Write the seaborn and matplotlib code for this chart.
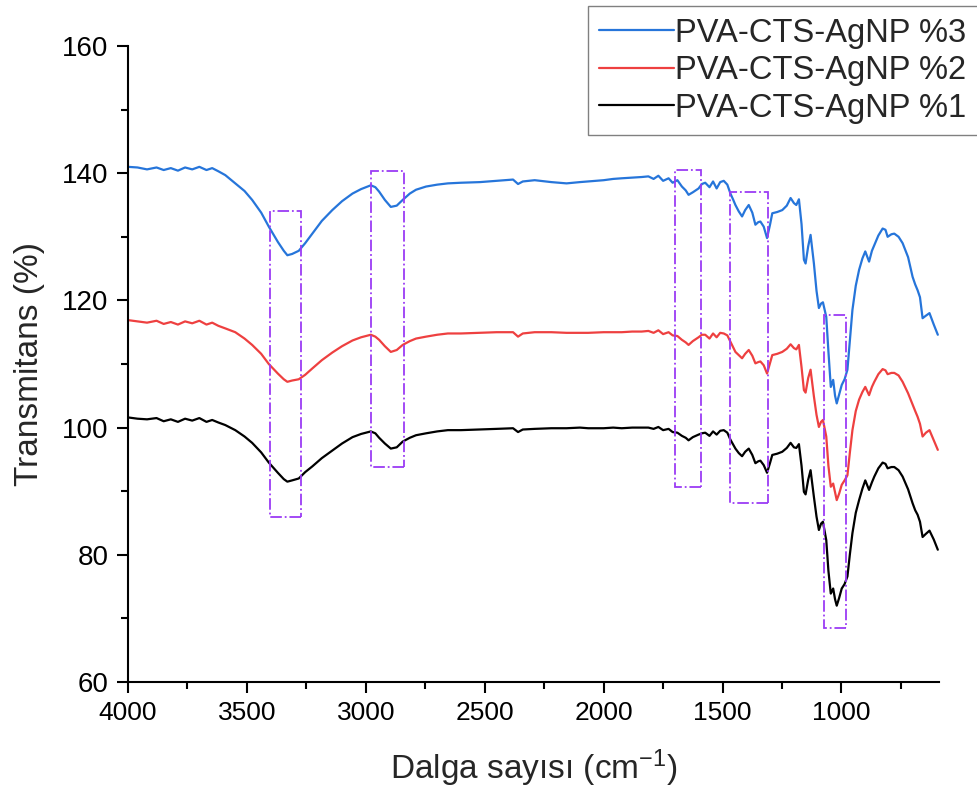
import matplotlib
matplotlib.use("Agg")
import matplotlib.pyplot as plt
from matplotlib.patches import Rectangle
from matplotlib.ticker import MultipleLocator
import seaborn as sns
import pandas as pd

# ---------------- data ----------------
wavenumber = [
    4000, 3960, 3920, 3880, 3850, 3820, 3790, 3760, 3730, 3700, 3670, 3646,
    3620, 3591, 3549, 3510, 3478, 3440, 3408, 3370, 3345, 3330, 3310, 3282,
    3255, 3225, 3185, 3141, 3100, 3056, 3020, 2979, 2960, 2944, 2920, 2895,
    2870, 2845, 2815, 2789, 2747, 2700, 2655, 2600, 2520, 2450, 2381, 2360,
    2340, 2290, 2220, 2156, 2100, 2065, 2000, 1960, 1924, 1880, 1840, 1812,
    1790, 1770, 1750, 1727, 1710, 1690, 1671, 1655, 1643, 1625, 1601, 1587,
    1573, 1555, 1540, 1525, 1510, 1495, 1480, 1467, 1455, 1446,
    1432, 1418, 1405, 1390, 1375, 1362, 1350, 1341, 1327, 1313,
    1300, 1291, 1270, 1249, 1230, 1214, 1200, 1190, 1179, 1168,
    1158, 1151, 1140, 1130, 1116, 1105, 1095, 1086, 1078, 1064,
    1055, 1045, 1035, 1027, 1020, 1010, 999, 987, 975, 965,
    954, 940, 926, 912, 900, 884, 872, 862, 845, 827,
    815, 806, 790, 778, 760, 743, 720, 701, 690, 680,
    670, 659, 645, 630, 612, 595,
]

pva_3 = [
    141.0, 140.9, 140.6, 140.9, 140.5, 140.8, 140.4, 140.9, 140.6, 141.0, 140.5, 140.8,
    140.3, 139.7, 138.4, 137.2, 135.8, 133.8, 131.6, 129.2, 127.8, 127.1, 127.3, 127.8,
    129.0, 130.5, 132.5, 134.2, 135.6, 136.8, 137.5, 138.1, 137.8, 137.1, 135.8, 134.7,
    134.9, 135.8, 136.8, 137.4, 137.9, 138.2, 138.4, 138.5, 138.6, 138.8, 139.0, 138.3,
    138.7, 138.9, 138.6, 138.4, 138.6, 138.7, 138.9, 139.1, 139.2, 139.3, 139.4, 139.5,
    139.1, 139.6, 138.8, 139.2, 138.5, 138.9, 137.9, 137.3, 136.6, 137.0, 137.6, 138.3,
    138.5, 137.8, 138.7, 137.6, 138.6, 138.8, 138.2, 136.8, 135.8, 135.0,
    134.0, 133.2, 134.2, 135.0, 133.8, 131.9, 132.3, 132.4, 131.6, 129.8,
    132.0, 133.7, 133.9, 134.2, 134.9, 136.1, 135.3, 135.0, 135.9, 132.0,
    126.4, 125.8, 128.5, 130.3, 125.8, 121.5, 118.8, 119.5, 119.7, 117.4,
    112.0, 106.4, 107.5, 105.0, 103.8, 105.2, 106.7, 107.6, 109.1, 113.5,
    118.5, 122.3, 124.8, 126.6, 127.7, 126.1, 127.8, 128.7, 130.2, 131.3,
    131.1, 130.0, 130.4, 130.5, 130.0, 129.0, 126.8, 123.7, 122.5, 121.6,
    120.5, 117.2, 117.6, 118.0, 116.2, 114.6,
]

pva_2 = [
    116.9, 116.7, 116.5, 116.8, 116.3, 116.6, 116.2, 116.7, 116.4, 116.8, 116.2, 116.5,
    116.0, 115.6, 115.0, 114.0, 113.0, 111.6, 110.0, 108.5, 107.6, 107.2, 107.4, 107.6,
    108.3, 109.3, 110.6, 111.8, 112.8, 113.7, 114.2, 114.6, 114.3, 113.8, 112.8, 111.9,
    112.2, 113.0, 113.6, 114.0, 114.3, 114.6, 114.8, 114.8, 114.9, 115.0, 115.0, 114.3,
    114.8, 115.0, 115.0, 114.9, 114.9, 114.9, 115.0, 115.0, 115.0, 115.1, 115.1, 115.2,
    114.9, 115.3, 114.7, 115.0, 114.5, 114.4, 113.8, 113.4, 113.0, 113.6, 114.2, 114.6,
    114.6, 114.0, 114.8, 114.2, 114.9, 114.8, 114.5, 113.5, 112.6, 111.9,
    111.4, 110.9, 111.6, 112.2, 111.3, 110.1, 110.3, 110.4, 109.8, 108.5,
    110.2, 111.4, 111.6, 111.9, 112.4, 113.1, 112.5, 112.3, 113.0, 109.5,
    105.9, 105.5, 107.8, 109.1, 104.9, 102.0, 100.1, 100.9, 101.2, 98.6,
    94.0, 90.7, 91.2, 89.8, 88.6, 89.6, 91.0, 91.7, 92.5, 96.0,
    99.6, 102.6, 104.4, 105.6, 106.4, 105.1, 106.4, 107.2, 108.4, 109.2,
    109.0, 108.4, 108.6, 108.6, 108.2, 107.2, 105.4, 103.6, 102.6, 101.7,
    100.6, 98.6, 99.2, 99.6, 98.0, 96.5,
]

pva_1 = [
    101.6, 101.4, 101.3, 101.5, 101.0, 101.3, 100.9, 101.4, 101.1, 101.5, 100.9, 101.2,
    100.8, 100.4, 99.6, 98.6, 97.6, 96.1, 94.5, 92.9, 91.9, 91.5, 91.7, 92.0,
    93.0, 93.9, 95.2, 96.4, 97.5, 98.5, 99.0, 99.4, 99.1, 98.4, 97.5, 96.7,
    96.9, 97.8, 98.4, 98.8, 99.1, 99.4, 99.6, 99.6, 99.7, 99.8, 99.9, 99.3,
    99.7, 99.8, 99.9, 99.9, 100.0, 99.9, 99.9, 100.0, 99.9, 100.0, 100.0, 100.0,
    99.8, 100.1, 99.6, 99.8, 99.3, 99.2, 98.7, 98.4, 98.0, 98.5, 98.9, 99.1,
    99.2, 98.7, 99.4, 98.9, 99.5, 99.6, 99.2, 98.1, 97.3, 96.7,
    96.0, 95.5, 96.2, 96.7, 95.7, 94.4, 94.7, 94.8, 94.1, 92.9,
    94.5, 95.7, 95.9, 96.2, 96.8, 97.6, 96.9, 96.8, 97.4, 94.0,
    89.9, 89.5, 91.8, 93.3, 89.1, 86.0, 83.9, 84.9, 85.2, 82.3,
    77.5, 73.9, 74.7, 73.0, 72.0, 73.2, 74.7, 75.4, 76.6, 80.0,
    83.4, 86.6, 88.6, 90.4, 91.7, 90.2, 91.4, 92.3, 93.6, 94.5,
    94.3, 93.6, 93.8, 93.8, 93.3, 92.3, 90.3, 88.1, 87.0, 86.3,
    85.2, 82.8, 83.3, 83.8, 82.4, 80.8,
]

series_labels = ["PVA-CTS-AgNP %3", "PVA-CTS-AgNP %2", "PVA-CTS-AgNP %1"]
series_colors = ["#2675da", "#ee4040", "#000000"]

# highlighted band boxes (wavenumber range, transmittance range)
box_x_start = [3401, 2979, 1700, 1468, 1072]
box_x_end = [3274, 2840, 1591, 1308, 979]
box_y_low = [85.9, 93.8, 90.7, 88.1, 68.5]
box_y_high = [134.1, 140.3, 140.5, 137.0, 117.7]

x_ticks = [4000, 3500, 3000, 2500, 2000, 1500, 1000]
y_ticks = [60, 80, 100, 120, 140, 160]

assert len(wavenumber) == len(pva_3) == len(pva_2) == len(pva_1)

# ---------------- figure ----------------
sns.set_style("ticks")
plt.rcParams["font.family"] = ["Liberation Sans", "DejaVu Sans"]
plt.rcParams["mathtext.fontset"] = "custom"
plt.rcParams["mathtext.rm"] = "Liberation Sans"
plt.rcParams["mathtext.it"] = "Liberation Sans"
plt.rcParams["mathtext.bf"] = "Liberation Sans:bold"

fig = plt.figure(figsize=(9.78, 7.88), dpi=100)
ax = fig.add_axes([128 / 978, (788 - 682) / 788, (939 - 128) / 978, (682 - 46) / 788])

frames = []
for lab, vals in zip(series_labels, [pva_3, pva_2, pva_1]):
    frames.append(pd.DataFrame({"wn": wavenumber, "T": vals, "sample": lab}))
df = pd.concat(frames, ignore_index=True)

sns.lineplot(data=df, x="wn", y="T", hue="sample", hue_order=series_labels,
             palette=series_colors, sort=False, estimator=None, linewidth=1.6,
             legend=False, ax=ax)

for x0, x1, y0, y1 in zip(box_x_start, box_x_end, box_y_low, box_y_high):
    ax.add_patch(Rectangle((x1, y0), x0 - x1, y1 - y0, fill=False,
                           edgecolor="#9b3cf5", linestyle="-.", linewidth=1.3, zorder=3))

ax.set_xlim(4000, 590)
ax.set_ylim(60, 160)
ax.set_xticks(x_ticks)
ax.set_yticks(y_ticks)
ax.xaxis.set_minor_locator(MultipleLocator(250))
ax.yaxis.set_minor_locator(MultipleLocator(10))

for s in ["top", "right"]:
    ax.spines[s].set_visible(False)
for s in ["left", "bottom"]:
    ax.spines[s].set_linewidth(1.5)
    ax.spines[s].set_color("black")

ax.tick_params(which="major", direction="out", length=8, width=1.5, colors="black")
ax.tick_params(which="minor", direction="out", length=5, width=1.5, colors="black")
ax.tick_params(axis="y", labelsize=20, pad=6)
ax.tick_params(axis="x", labelsize=19, pad=6)

ax.set_xlabel("Dalga sayısı (cm$^{-1}$)", fontsize=24, labelpad=16)
ax.set_ylabel("Transmitans (%)", fontsize=24, labelpad=12)

handles = ax.get_lines()[:3]
leg = fig.legend(handles, series_labels, loc="upper right",
                 bbox_to_anchor=(1.0, 0.992), fontsize=23.5, frameon=True,
                 fancybox=False, framealpha=1, edgecolor="#808080",
                 handlelength=2.3, handletextpad=0.03, labelspacing=0.2,
                 borderpad=0.35, borderaxespad=0.0)
leg.get_frame().set_linewidth(1.0)

fig.savefig("out.png", dpi=100)
